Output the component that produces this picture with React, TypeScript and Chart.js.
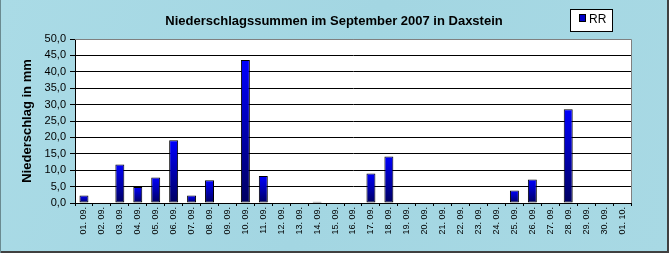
import { useEffect, useRef } from 'react';
import { Chart, registerables } from 'chart.js';
Chart.register(...registerables);

const titleText = 'Niederschlagssummen im September 2007 in Daxstein';
const yAxisTitle = 'Niederschlag in mm';
const seriesName = 'RR';
const categories = [
  '01. 09.', '02. 09.', '03. 09.', '04. 09.', '05. 09.', '06. 09.', '07. 09.', '08. 09.',
  '09. 09.', '10. 09.', '11. 09.', '12. 09.', '13. 09.', '14. 09.', '15. 09.', '16. 09.',
  '17. 09.', '18. 09.', '19. 09.', '20. 09.', '21. 09.', '22. 09.', '23. 09.', '24. 09.',
  '25. 09.', '26. 09.', '27. 09.', '28. 09.', '29. 09.', '30. 09.', '01. 10.',
];
const rainfall = [
  2.3, 0, 11.7, 4.9, 7.8, 19.1, 2.3, 6.9,
  0, 43.6, 8.2, 0, 0, 0.4, 0, 0,
  9.0, 14.2, 0, 0, 0, 0, 0, 0,
  3.8, 7.2, 0, 28.6, 0, 0, 0,
];
const yTickLabels = ['0,0', '5,0', '10,0', '15,0', '20,0', '25,0', '30,0', '35,0', '40,0', '45,0', '50,0'];

const SANS = '"Liberation Sans", Arial, sans-serif';
const NARROW = '"Liberation Sans Narrow", "Arial Narrow", "Liberation Sans", sans-serif';

const decorPlugin = {
  id: 'decor',
  beforeDraw(chart: any) {
    const { ctx, width, height, chartArea } = chart;
    ctx.save();
    const g = ctx.createLinearGradient(0, 0, width, height);
    g.addColorStop(0, '#aadbe6');
    g.addColorStop(0.5, '#a3d6e2');
    g.addColorStop(1, '#a8d9e4');
    ctx.fillStyle = g;
    ctx.fillRect(0, 0, width, height);
    ctx.fillStyle = '#ffffff';
    ctx.fillRect(chartArea.left, chartArea.top, chartArea.right - chartArea.left, chartArea.bottom - chartArea.top);
    ctx.restore();
  },
  afterDraw(chart: any) {
    const { ctx, width, height, chartArea } = chart;
    ctx.save();
    ctx.strokeStyle = '#808080';
    ctx.lineWidth = 1;
    ctx.beginPath();
    ctx.moveTo(chartArea.left, Math.round(chartArea.top) + 0.5);
    ctx.lineTo(Math.round(chartArea.right) + 0.5, Math.round(chartArea.top) + 0.5);
    ctx.lineTo(Math.round(chartArea.right) + 0.5, chartArea.bottom);
    ctx.stroke();

    ctx.fillStyle = '#000';
    ctx.font = 'bold 13px ' + SANS;
    ctx.textAlign = 'center';
    ctx.textBaseline = 'middle';
    ctx.fillText(titleText, 334, 21);

    ctx.save();
    ctx.translate(27, (chartArea.top + chartArea.bottom) / 2);
    ctx.rotate(-Math.PI / 2);
    ctx.fillText(yAxisTitle, 0, 0);
    ctx.restore();

    ctx.fillStyle = '#ffffff';
    ctx.fillRect(570, 9, 43, 23);
    ctx.strokeStyle = '#000';
    ctx.strokeRect(570.5, 9.5, 42, 22);
    ctx.fillStyle = '#0000c8';
    ctx.fillRect(579, 14, 7, 8);
    ctx.strokeRect(579.5, 14.5, 6, 7);
    ctx.fillStyle = '#000';
    ctx.font = '12px ' + SANS;
    ctx.textAlign = 'left';
    ctx.textBaseline = 'alphabetic';
    ctx.fillText(seriesName, 589, 23);

    ctx.fillStyle = '#404040';
    ctx.fillRect(width - 2, 0, 2, height);
    ctx.fillRect(0, height - 2, width, 2);
    ctx.fillStyle = '#6a8a90';
    ctx.fillRect(0, 0, 1, height);
    ctx.restore();
  },
};

export default function App() {
  const ref = useRef<HTMLCanvasElement | null>(null);
  useEffect(() => {
    const canvas = ref.current;
    if (!canvas) return;
    const chart = new Chart(canvas, {
      type: 'bar',
      data: {
        labels: categories,
        datasets: [
          {
            label: seriesName,
            data: rainfall,
            backgroundColor: (c: any) => {
              const ch = c.chart;
              if (!ch.chartArea || c.type !== 'data' || !ch.scales.y) return '#0000ff';
              const ys = ch.scales.y;
              const top = ys.getPixelForValue(c.raw);
              const base = ys.getPixelForValue(0);
              if (!isFinite(top) || !isFinite(base) || Math.abs(base - top) < 1) return '#000060';
              const g = ch.ctx.createLinearGradient(0, top, 0, base);
              g.addColorStop(0, '#0000ff');
              g.addColorStop(1, '#000060');
              return g;
            },
            borderColor: '#000000',
            borderWidth: 1,
            borderSkipped: false,
            categoryPercentage: 1,
            barPercentage: 0.5,
          },
        ],
      },
      options: {
        responsive: false,
        animation: false,
        devicePixelRatio: 1,
        layout: { padding: { left: 0, right: 38, top: 39, bottom: 0 } },
        plugins: {
          legend: { display: false },
          title: { display: false },
          tooltip: { enabled: false },
        },
        scales: {
          x: {
            grid: { offset: true, drawOnChartArea: false, drawTicks: true, tickLength: 3, color: '#000' },
            border: { color: '#000', width: 1 },
            ticks: {
              minRotation: 90,
              maxRotation: 90,
              autoSkip: false,
              padding: 1,
              color: '#000',
              font: { family: NARROW, size: 9 },
            },
            afterFit: (s: any) => { s.height = 50; },
          },
          y: {
            min: 0,
            max: 50,
            ticks: {
              stepSize: 5,
              padding: 4,
              color: '#000',
              font: { family: SANS, size: 11 },
              callback: (_v: any, i: number) => yTickLabels[i],
            },
            grid: {
              color: (c: any) => (c.tick && c.tick.value === 50 ? '#808080' : '#000'),
              tickColor: '#000',
              tickLength: 5,
            },
            border: { color: '#000', width: 1 },
            afterFit: (s: any) => { s.width = 75; },
          },
        },
      },
      plugins: [decorPlugin],
    } as any);
    return () => chart.destroy();
  }, []);
  return (
    <div style={{ position: 'absolute', left: 0, top: 0, width: 669, height: 253 }}>
      <canvas ref={ref} width={669} height={253} style={{ display: 'block', width: 669, height: 253 }} />
    </div>
  );
}
